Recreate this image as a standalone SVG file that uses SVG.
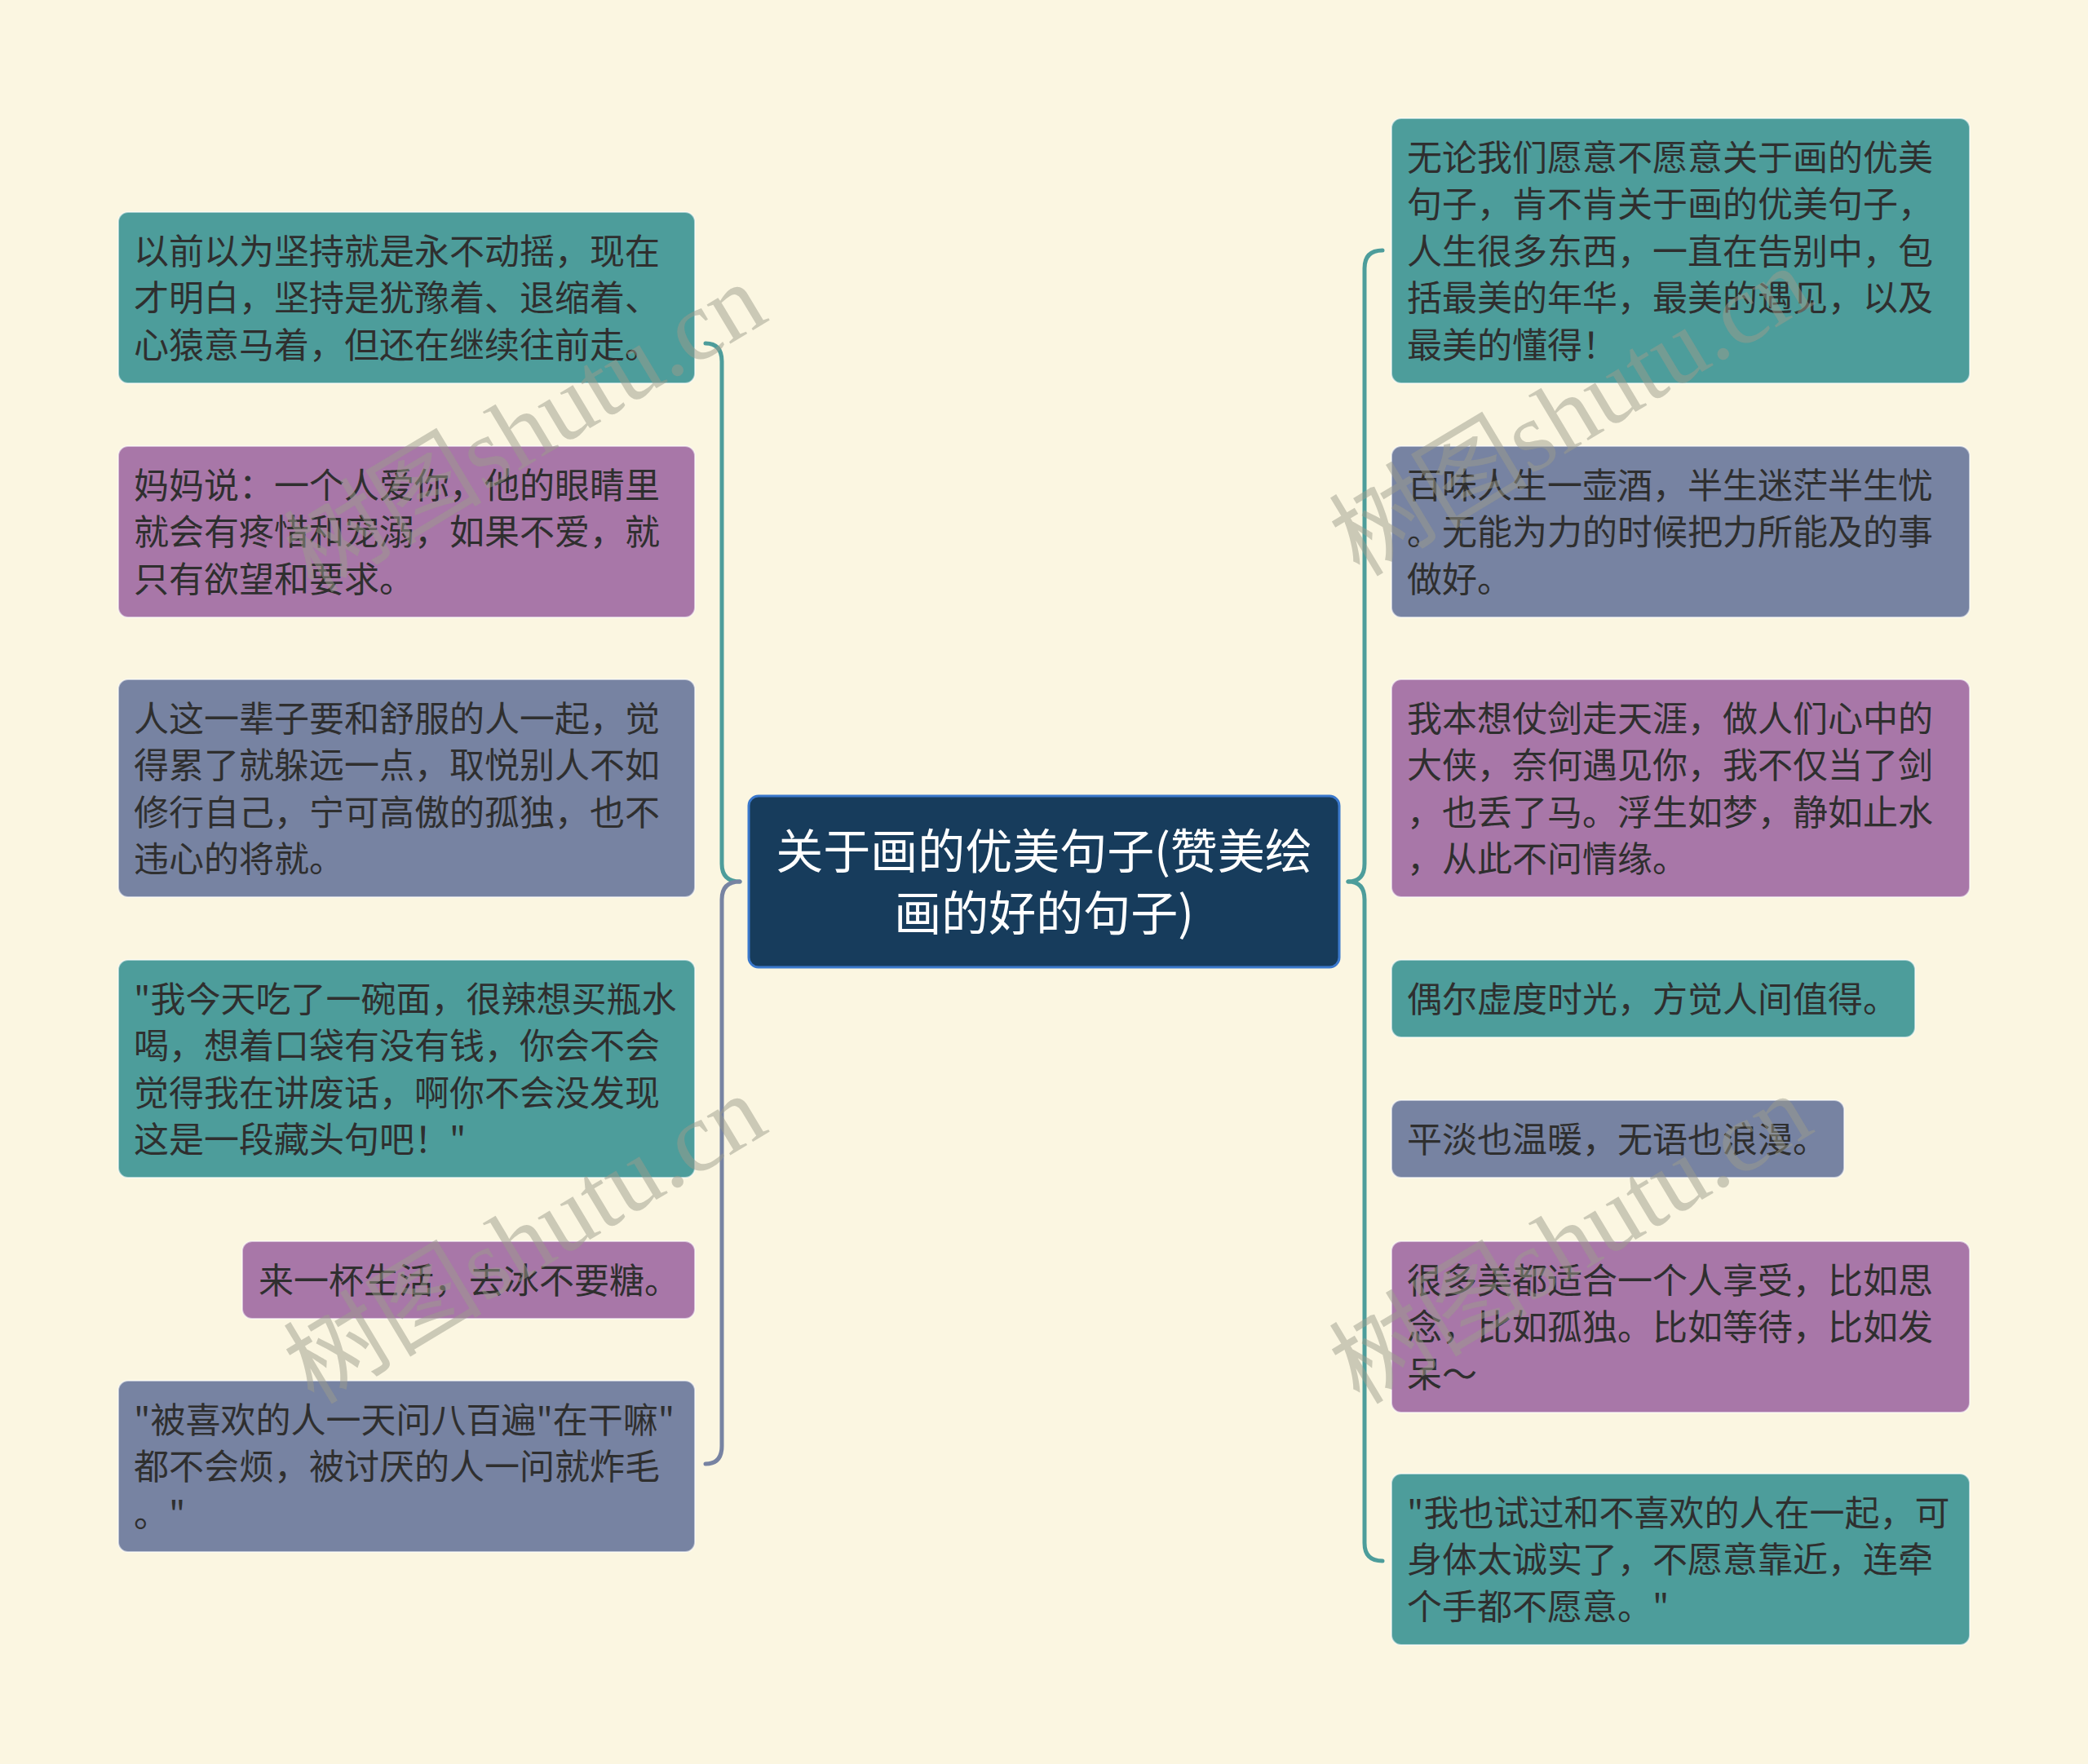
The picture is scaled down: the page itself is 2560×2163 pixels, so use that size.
<svg xmlns="http://www.w3.org/2000/svg" width="2560" height="2163" viewBox="0 0 2560 2163">
<style>
.bg{fill:#fbf6e1}
.node{stroke:#ffffff;stroke-opacity:0.55;stroke-width:2}
.teal{fill:#4d9d9b}
.purple{fill:#a877a8}
.slate{fill:#7783a2}
.t{font-family:"Noto Sans CJK SC","Noto Sans",sans-serif;font-size:43px;fill:#2f2f2f}
.ct{font-family:"Noto Sans CJK SC","Noto Sans",sans-serif;font-size:58px;fill:#ffffff;text-anchor:middle}
.wm{font-family:"Liberation Serif","Noto Sans CJK SC",serif;font-size:122px;fill:#9c9b8c;fill-opacity:0.5;text-anchor:middle}
.c{fill:none;stroke-width:5;stroke-linecap:round}
</style>
<rect class="bg" x="0" y="0" width="2560" height="2163"/>

<g id="connectors">
<path class="c" stroke="#4d9d9b" d="M865 421 Q885 421 885 443 L885 1059 Q885 1081 907 1081"/>
<path class="c" stroke="#7783a2" d="M907 1081 Q885 1081 885 1103 L885 1773 Q885 1795 865 1795"/>
<path class="c" stroke="#4d9d9b" d="M1695 307 Q1673 307 1673 329 L1673 1059 Q1673 1081 1653 1081"/>
<path class="c" stroke="#4d9d9b" d="M1653 1081 Q1673 1081 1673 1103 L1673 1892 Q1673 1914 1695 1914"/>
</g>

<g id="center">
<rect x="918" y="976" width="724" height="210" rx="12" fill="#173c5c" stroke="#3a78cc" stroke-width="3"/>
<text class="ct" x="1280" y="1065">关于画的优美句子(赞美绘</text>
<text class="ct" x="1280" y="1141">画的好的句子)</text>
</g>

<g id="L1">
<rect class="node teal" x="145" y="260" width="707" height="210" rx="12"/>
<text class="t" x="164" y="323.5">以前以为坚持就是永不动摇，现在<tspan x="164" dy="57.5">才明白，坚持是犹豫着、退缩着、</tspan><tspan x="164" dy="57.5">心猿意马着，但还在继续往前走。</tspan></text>
</g>
<g id="L2">
<rect class="node purple" x="145" y="547" width="707" height="210" rx="12"/>
<text class="t" x="164" y="610.5">妈妈说：一个人爱你，他的眼睛里<tspan x="164" dy="57.5">就会有疼惜和宠溺，如果不爱，就</tspan><tspan x="164" dy="57.5">只有欲望和要求。</tspan></text>
</g>
<g id="L3">
<rect class="node slate" x="145" y="833" width="707" height="267" rx="12"/>
<text class="t" x="164" y="896.5">人这一辈子要和舒服的人一起，觉<tspan x="164" dy="57.5">得累了就躲远一点，取悦别人不如</tspan><tspan x="164" dy="57.5">修行自己，宁可高傲的孤独，也不</tspan><tspan x="164" dy="57.5">违心的将就。</tspan></text>
</g>
<g id="L4">
<rect class="node teal" x="145" y="1177" width="707" height="267" rx="12"/>
<text class="t" x="164" y="1240.5">"我今天吃了一碗面，很辣想买瓶水<tspan x="164" dy="57.5">喝，想着口袋有没有钱，你会不会</tspan><tspan x="164" dy="57.5">觉得我在讲废话，啊你不会没发现</tspan><tspan x="164" dy="57.5">这是一段藏头句吧！"</tspan></text>
</g>
<g id="L5">
<rect class="node purple" x="297" y="1522" width="555" height="95" rx="12"/>
<text class="t" x="317" y="1585.5">来一杯生活，去冰不要糖。</text>
</g>
<g id="L6">
<rect class="node slate" x="145" y="1693" width="707" height="210" rx="12"/>
<text class="t" x="164" y="1756.5">"被喜欢的人一天问八百遍"在干嘛"<tspan x="164" dy="57.5">都不会烦，被讨厌的人一问就炸毛</tspan><tspan x="164" dy="57.5">。"</tspan></text>
</g>

<g id="R1">
<rect class="node teal" x="1706" y="145" width="709" height="325" rx="12"/>
<text class="t" x="1725" y="208.5">无论我们愿意不愿意关于画的优美<tspan x="1725" dy="57.5">句子，肯不肯关于画的优美句子，</tspan><tspan x="1725" dy="57.5">人生很多东西，一直在告别中，包</tspan><tspan x="1725" dy="57.5">括最美的年华，最美的遇见，以及</tspan><tspan x="1725" dy="57.5">最美的懂得！</tspan></text>
</g>
<g id="R2">
<rect class="node slate" x="1706" y="547" width="709" height="210" rx="12"/>
<text class="t" x="1725" y="610.5">百味人生一壶酒，半生迷茫半生忧<tspan x="1725" dy="57.5">。无能为力的时候把力所能及的事</tspan><tspan x="1725" dy="57.5">做好。</tspan></text>
</g>
<g id="R3">
<rect class="node purple" x="1706" y="833" width="709" height="267" rx="12"/>
<text class="t" x="1725" y="896.5">我本想仗剑走天涯，做人们心中的<tspan x="1725" dy="57.5">大侠，奈何遇见你，我不仅当了剑</tspan><tspan x="1725" dy="57.5">，也丢了马。浮生如梦，静如止水</tspan><tspan x="1725" dy="57.5">，从此不问情缘。</tspan></text>
</g>
<g id="R4">
<rect class="node teal" x="1706" y="1177" width="642" height="95" rx="12"/>
<text class="t" x="1725" y="1240.5">偶尔虚度时光，方觉人间值得。</text>
</g>
<g id="R5">
<rect class="node slate" x="1706" y="1349" width="555" height="95" rx="12"/>
<text class="t" x="1725" y="1412.5">平淡也温暖，无语也浪漫。</text>
</g>
<g id="R6">
<rect class="node purple" x="1706" y="1522" width="709" height="210" rx="12"/>
<text class="t" x="1725" y="1585.5">很多美都适合一个人享受，比如思<tspan x="1725" dy="57.5">念，比如孤独。比如等待，比如发</tspan><tspan x="1725" dy="57.5">呆～</tspan></text>
</g>
<g id="R7">
<rect class="node teal" x="1706" y="1807" width="709" height="210" rx="12"/>
<text class="t" x="1725" y="1870.5">"我也试过和不喜欢的人在一起，可<tspan x="1725" dy="57.5">身体太诚实了，不愿意靠近，连牵</tspan><tspan x="1725" dy="57.5">个手都不愿意。"</tspan></text>
</g>

<g id="watermarks">
<text class="wm" transform="translate(665 560) rotate(-31)">树图shutu.cn</text>
<text class="wm" transform="translate(665 1555) rotate(-31)">树图shutu.cn</text>
<text class="wm" transform="translate(1947 540) rotate(-31)">树图shutu.cn</text>
<text class="wm" transform="translate(1947 1555) rotate(-31)">树图shutu.cn</text>
</g>
</svg>
